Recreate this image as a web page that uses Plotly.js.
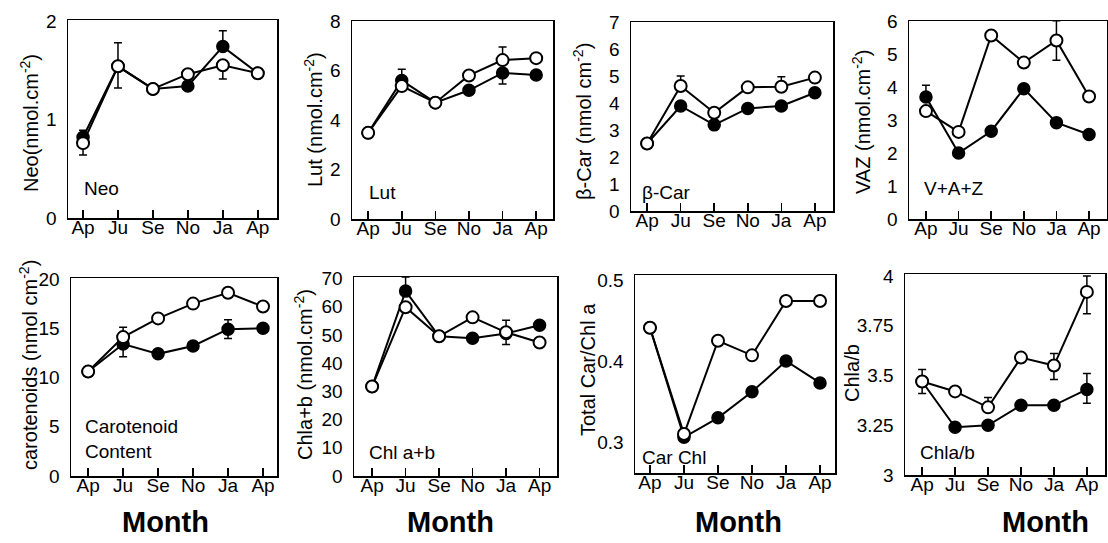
<!DOCTYPE html>
<html><head><meta charset="utf-8">
<script src="https://cdn.plot.ly/plotly-3.0.1.min.js"></script>
<style>html,body{margin:0;padding:0;background:#fff}#chart{width:1108px;height:543px}</style>
</head><body><div id="chart"></div><script>
// ---- data ----
const months = ["Ap", "Ju", "Se", "No", "Ja", "Ap"];

const neoOpen = [0.76, 1.54, 1.31, 1.46, 1.55, 1.47];
const neoFilled = [0.82, 1.54, 1.31, 1.34, 1.74, 1.47];
const neoOpenUp = [0.13, 0.24, null, null, null, null];
const neoOpenDn = [0.12, 0.22, null, null, 0.14, null];
const neoFilledUp = [null, null, null, null, 0.16, null];
const neoFilledDn = [null, null, null, null, null, null];
const neoTicks = [0, 1, 2];
const neoTickText = ["0", "1", "2"];

const lutOpen = [3.48, 5.37, 4.7, 5.8, 6.42, 6.5];
const lutFilled = [3.48, 5.6, 4.7, 5.2, 5.9, 5.82];
const lutOpenUp = [null, null, null, null, 0.53, null];
const lutOpenDn = [null, null, null, null, null, null];
const lutFilledUp = [null, 0.45, null, null, null, null];
const lutFilledDn = [null, null, null, null, 0.45, null];
const lutTicks = [0, 2, 4, 6, 8];
const lutTickText = ["0", "2", "4", "6", "8"];

const bcarOpen = [2.5, 4.63, 3.64, 4.58, 4.6, 4.94];
const bcarFilled = [2.5, 3.89, 3.19, 3.8, 3.89, 4.38];
const bcarOpenUp = [null, 0.37, null, null, 0.37, null];
const bcarOpenDn = [null, null, null, null, null, null];
const bcarFilledUp = [null, null, null, null, null, null];
const bcarFilledDn = [null, null, null, null, null, null];
const bcarTicks = [0, 1, 2, 3, 4, 5, 6, 7];
const bcarTickText = ["0", "1", "2", "3", "4", "5", "6", "7"];

const vazOpen = [3.27, 2.64, 5.56, 4.74, 5.41, 3.71];
const vazFilled = [3.7, 2.0, 2.66, 3.95, 2.92, 2.56];
const vazOpenUp = [null, null, null, null, 0.6, null];
const vazOpenDn = [null, null, null, null, 0.6, null];
const vazFilledUp = [0.35, null, null, null, null, null];
const vazFilledDn = [null, null, null, null, null, null];
const vazTicks = [0, 1, 2, 3, 4, 5, 6];
const vazTickText = ["0", "1", "2", "3", "4", "5", "6"];

const carOpen = [10.6, 14.1, 16.0, 17.5, 18.6, 17.2];
const carFilled = [10.6, 13.4, 12.4, 13.2, 14.9, 15.0];
const carOpenUp = [null, 1.0, null, null, null, null];
const carOpenDn = [null, null, null, null, null, null];
const carFilledUp = [null, null, null, null, 0.95, null];
const carFilledDn = [null, 1.3, null, null, 0.95, null];
const carTicks = [0, 5, 10, 15, 20];
const carTickText = ["0", "5", "10", "15", "20"];

const chlOpen = [31.7, 59.8, 49.5, 56.2, 50.9, 47.3];
const chlFilled = [31.7, 65.5, 49.5, 48.8, 50.5, 53.4];
const chlOpenUp = [null, null, null, null, 4.3, null];
const chlOpenDn = [null, null, null, null, 4.3, null];
const chlFilledUp = [null, 5.0, null, null, null, null];
const chlFilledDn = [null, null, null, null, null, null];
const chlTicks = [0, 10, 20, 30, 40, 50, 60, 70];
const chlTickText = ["0", "10", "20", "30", "40", "50", "60", "70"];

const ratioOpen = [0.441, 0.310, 0.425, 0.407, 0.474, 0.474];
const ratioFilled = [0.441, 0.306, 0.330, 0.362, 0.400, 0.373];
const ratioNone = [null, null, null, null, null, null];
const ratioTicks = [0.3, 0.4, 0.5];
const ratioTickText = ["0.3", "0.4", "0.5"];

const abOpen = [3.47, 3.42, 3.34, 3.59, 3.55, 3.92];
const abFilled = [3.47, 3.24, 3.25, 3.35, 3.35, 3.43];
const abOpenUp = [0.06, null, 0.05, null, 0.06, 0.08];
const abOpenDn = [0.06, null, null, null, 0.07, 0.11];
const abFilledUp = [null, null, null, null, null, 0.08];
const abFilledDn = [null, null, null, null, null, 0.07];
const abTicks = [3, 3.25, 3.5, 3.75, 4];
const abTickText = ["3", "3.25", "3.5", "3.75", "4"];

// ---- layout helpers ----
const W = 1108, H = 543;
const fx = p => p / W;
const fy = p => 1 - p / H;
const xIdx = months.map((m, i) => i);
const nanify = a => a.map(v => (v === null ? NaN : v));

const panels = [
  {o: neoOpen, f: neoFilled, oU: neoOpenUp, oD: neoOpenDn, fU: neoFilledUp, fD: neoFilledDn,
   tv: neoTicks, tt: neoTickText, box: [68, 277, 20, 218], yr: [0, 2.01], xr: [-0.43, 5.55],
   title: "Neo(nmol.cm<sup>-2</sup>)", tx: 30, ty: 123, label: ["Neo"], lx: 82, ly: 188},
  {o: lutOpen, f: lutFilled, oU: lutOpenUp, oD: lutOpenDn, fU: lutFilledUp, fD: lutFilledDn,
   tv: lutTicks, tt: lutTickText, box: [352, 553, 21, 219], yr: [0, 8], xr: [-0.48, 5.5],
   title: "Lut (nmol.cm<sup>-2</sup>)", tx: 313, ty: 120, label: ["Lut"], lx: 367, ly: 192},
  {o: bcarOpen, f: bcarFilled, oU: bcarOpenUp, oD: bcarOpenDn, fU: bcarFilledUp, fD: bcarFilledDn,
   tv: bcarTicks, tt: bcarTickText, box: [631, 833, 22, 211], yr: [0, 7], xr: [-0.48, 5.54],
   title: "β-Car (nmol cm<sup>-2</sup>)", tx: 583, ty: 122, label: ["β-Car"], lx: 640, ly: 192},
  {o: vazOpen, f: vazFilled, oU: vazOpenUp, oD: vazOpenDn, fU: vazFilledUp, fD: vazFilledDn,
   tv: vazTicks, tt: vazTickText, box: [909, 1107, 21, 219], yr: [0, 6], xr: [-0.52, 5.55],
   title: "VAZ (nmol.cm<sup>-2</sup>)", tx: 862, ty: 122, label: ["V+A+Z"], lx: 922, ly: 188},
  {o: carOpen, f: carFilled, oU: carOpenUp, oD: carOpenDn, fU: carFilledUp, fD: carFilledDn,
   tv: carTicks, tt: carTickText, box: [71, 277, 278, 476], yr: [0, 20.1], xr: [-0.49, 5.4],
   title: "carotenoids (nmol cm<sup>-2</sup>)", tx: 28, ty: 365, label: ["Carotenoid", "Content"], lx: 83, ly: 427},
  {o: chlOpen, f: chlFilled, oU: chlOpenUp, oD: chlOpenDn, fU: chlFilledUp, fD: chlFilledDn,
   tv: chlTicks, tt: chlTickText, box: [354, 557, 277, 476], yr: [0, 70.5], xr: [-0.54, 5.52],
   title: "Chla+b (nmol.cm<sup>-2</sup>)", tx: 303, ty: 375, label: ["Chl a+b"], lx: 367, ly: 452},
  {o: ratioOpen, f: ratioFilled, oU: ratioNone, oD: ratioNone, fU: ratioNone, fD: ratioNone,
   tv: ratioTicks, tt: ratioTickText, box: [635, 835, 275, 473], yr: [0.262, 0.506], xr: [-0.44, 5.44],
   title: "Total Car/Chl a", tx: 588, ty: 370, label: ["Car Chl"], lx: 640, ly: 457},
  {o: abOpen, f: abFilled, oU: abOpenUp, oD: abOpenDn, fU: abFilledUp, fD: abFilledDn,
   tv: abTicks, tt: abTickText, box: [905, 1105, 274, 475], yr: [3, 4.01], xr: [-0.52, 5.55],
   title: "Chla/b", tx: 852, ty: 373, label: ["Chla/b"], lx: 918, ly: 452}
];

const monthLabelX = [165, 450, 738, 1045];
const FONT = "Liberation Sans, Arial, Helvetica, sans-serif";

const data = [];
const layout = {
  width: W, height: H,
  margin: {l: 0, r: 0, t: 0, b: 0},
  paper_bgcolor: "#ffffff", plot_bgcolor: "#ffffff",
  showlegend: false,
  font: {family: FONT, color: "#000", size: 18},
  annotations: []
};

function err(up, dn) {
  const hasAny = up.some(v => v !== null) || dn.some(v => v !== null);
  if (!hasAny) return {visible: false};
  return {type: "data", symmetric: false, array: nanify(up), arrayminus: nanify(dn),
          color: "#000", thickness: 1.5, width: 4, visible: true};
}

panels.forEach((p, i) => {
  const n = i + 1;
  const xa = n === 1 ? "x" : "x" + n;
  const ya = n === 1 ? "y" : "y" + n;
  const xk = n === 1 ? "xaxis" : "xaxis" + n;
  const yk = n === 1 ? "yaxis" : "yaxis" + n;
  data.push({
    x: xIdx, y: p.f, xaxis: xa, yaxis: ya, type: "scatter", mode: "lines+markers",
    line: {color: "#000", width: 2},
    marker: {symbol: "circle", size: 12, color: "#000", line: {color: "#000", width: 1.5}},
    error_y: err(p.fU, p.fD), cliponaxis: false, hoverinfo: "skip"
  });
  data.push({
    x: xIdx, y: p.o, xaxis: xa, yaxis: ya, type: "scatter", mode: "lines+markers",
    line: {color: "#000", width: 2},
    marker: {symbol: "circle", size: 12, color: "#fff", line: {color: "#000", width: 2}},
    error_y: err(p.oU, p.oD), cliponaxis: false, hoverinfo: "skip"
  });
  layout[xk] = {
    domain: [fx(p.box[0]), fx(p.box[1])], anchor: ya, range: p.xr,
    tickmode: "array", tickvals: xIdx, ticktext: months,
    ticks: "inside", ticklen: 8, tickwidth: 1.5, tickcolor: "#000",
    showline: true, mirror: true, linecolor: "#000", linewidth: 1.5,
    showgrid: false, zeroline: false, fixedrange: true, ticklabelstandoff: -8,
    tickfont: {family: FONT, size: 19, color: "#000"}
  };
  layout[yk] = {
    domain: [fy(p.box[3]), fy(p.box[2])], anchor: xa, range: p.yr,
    tickmode: "array", tickvals: p.tv, ticktext: p.tt,
    ticks: "", showline: true, mirror: true, linecolor: "#000", linewidth: 1.5,
    showgrid: false, zeroline: false, fixedrange: true, ticklabelstandoff: 6,
    tickfont: {family: FONT, size: 19, color: "#000"}
  };
  layout.annotations.push({
    xref: "paper", yref: "paper", x: fx(p.tx), y: fy(p.ty), text: p.title,
    textangle: -90, showarrow: false, xanchor: "center", yanchor: "middle",
    font: {family: FONT, size: 20, color: "#000"}
  });
  const multi = p.label.length > 1;
  layout.annotations.push({
    xref: "paper", yref: "paper", x: fx(p.lx), y: fy(multi ? 414 : p.ly), text: p.label.join("<br>"),
    showarrow: false, xanchor: "left", yanchor: multi ? "top" : "middle",
    align: "left", font: {family: FONT, size: 19, color: "#000"}
  });
});

monthLabelX.forEach(mx => {
  layout.annotations.push({
    xref: "paper", yref: "paper", x: fx(mx), y: fy(522), text: "<b>Month</b>",
    showarrow: false, xanchor: "center", yanchor: "middle",
    font: {family: FONT, size: 29, color: "#000"}
  });
});

Plotly.newPlot("chart", data, layout, {staticPlot: true, displayModeBar: false});
</script></body></html>
